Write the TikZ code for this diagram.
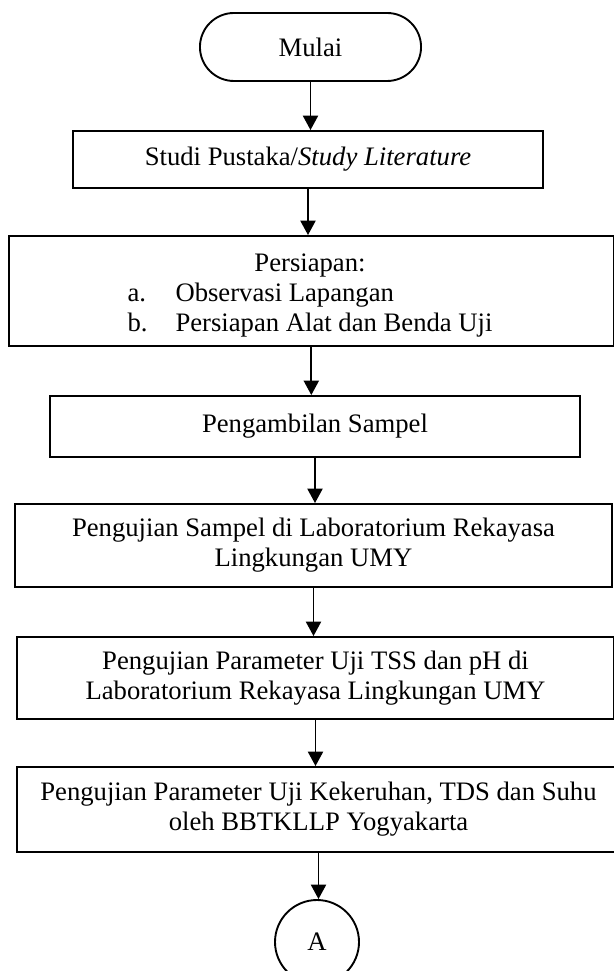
\documentclass[tikz,border=0pt]{standalone}
\usepackage{fontspec}
\setmainfont{Liberation Serif}
\usetikzlibrary{arrows.meta}

\begin{document}
\begin{tikzpicture}[x=0.45pt, y=-0.45pt,
    font=\fontsize{12}{13.5}\selectfont,
    box/.style={draw, line width=0.85pt, inner sep=0pt, align=center}]
    \useasboundingbox (0,0) rectangle (613,971);
    \node[box, rounded corners=15.3pt, minimum width=99.5pt, minimum height=30.6pt] (1) at (310.5,47) {Mulai};
    \node[box, minimum width=211.5pt, minimum height=25.65pt] (2) at (308,159.5) {Studi Pustaka/\textit{Study Literature}};
    \node[box, minimum width=272.4pt, minimum height=49.5pt] (3) at (311.3,291) {};
    \node[draw=none] (3t) at (310,296) {\begin{tabular}{@{}p{21.6pt}@{}l@{}}
      \multicolumn{2}{c}{Persiapan:}\\
      a. & Observasi Lapangan\\
      b. & Persiapan Alat dan Benda Uji
    \end{tabular}};
    \node[box, minimum width=238.5pt, minimum height=27.45pt] (4) at (315,426.5) {Pengambilan Sampel};
    \node[box, minimum width=268.65pt, minimum height=37.35pt] (5) at (313.5,545.5) {Pengujian Sampel di Laboratorium Rekayasa\\ Lingkungan UMY};
    \node[box, minimum width=268.65pt, minimum height=36.9pt] (6) at (315.5,678) {Pengujian Parameter Uji TSS dan pH di\\ Laboratorium Rekayasa Lingkungan UMY};
    \node[box, minimum width=271.35pt, minimum height=38.25pt] (7) at (318.5,809.5) {Pengujian Parameter Uji Kekeruhan, TDS dan Suhu\\ oleh BBTKLLP Yogyakarta};
    \node[box, circle, minimum size=37.8pt] (8) at (317,942) {A};
\begin{scope}[line width=0.85pt, -{Triangle[length=6.5pt, width=6.8pt]}]
    \draw (1) -- (1 |- 2.north);
    \draw (2) -- (2 |- 3.north);
    \draw (3) -- (3 |- 4.north);
    \draw (4) -- (4 |- 5.north);
    \draw (5) -- (5 |- 6.north);
    \draw (6) -- (6 |- 7.north);
    \draw (7) -- (7 |- 8.north);
\end{scope}
\end{tikzpicture}
\end{document}
